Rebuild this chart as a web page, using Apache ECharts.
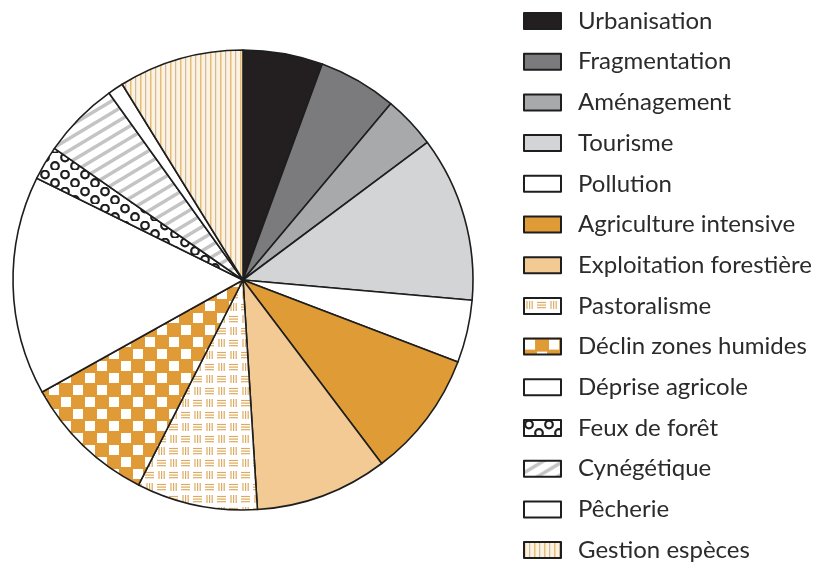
<!DOCTYPE html>
<html>
<head>
<meta charset="utf-8">
<script src="https://cdn.jsdelivr.net/npm/echarts@6/dist/echarts.min.js"></script>
<style>
html,body{margin:0;padding:0;background:#fff;}
#chart{width:830px;height:567px;}
</style>
</head>
<body>
<div id="chart"></div>
<script>
// ---- data ----
const categories = ["Urbanisation","Fragmentation","Aménagement","Tourisme","Pollution","Agriculture intensive","Exploitation forestière","Pastoralisme","Déclin zones humides","Déprise agricole","Feux de forêt","Cynégétique","Pêcherie","Gestion espèces"];
const values = [5.6, 5.5, 3.7, 11.6, 4.4, 8.9, 9.3, 8.5, 9.4, 15.4, 2.4, 5.4, 1.1, 8.8];

// ---- patterns ----
function mk(w, h, draw) {
  const c = document.createElement('canvas');
  c.width = w; c.height = h;
  const g = c.getContext('2d');
  draw(g, w, h);
  return { image: c, repeat: 'repeat' };
}
const pastoral = mk(24, 24, (g) => {
  g.fillStyle = '#ffffff'; g.fillRect(0,0,24,24);
  g.strokeStyle = '#dcaa5e'; g.lineWidth = 1.2;
  function vert(x0, y0){ for (let i=0;i<3;i++){ g.beginPath(); g.moveTo(x0+2+i*2.6, y0+2); g.lineTo(x0+2+i*2.6, y0+10); g.stroke(); } }
  function hor(x0, y0){ for (let i=0;i<3;i++){ g.beginPath(); g.moveTo(x0+1, y0+3.5+i*2.6); g.lineTo(x0+10, y0+3.5+i*2.6); g.stroke(); } }
  vert(1,1); hor(12,1); hor(0,13); vert(13,13);
});
const checker = mk(24, 24, (g) => {
  g.fillStyle = '#e09a36'; g.fillRect(0,0,24,24);
  g.fillStyle = '#ffffff';
  g.fillRect(1,1,10,10); g.fillRect(13,13,10,10);
});
const rings = mk(20, 17, (g) => {
  g.fillStyle = '#ffffff'; g.fillRect(0,0,20,17);
  g.strokeStyle = '#1e1e1e'; g.lineWidth = 2.2;
  g.beginPath(); g.arc(5,4.5,3.8,0,Math.PI*2); g.stroke();
  g.beginPath(); g.arc(15,13,3.8,0,Math.PI*2); g.stroke();
});
const hatch = mk(20, 12, (g) => {
  g.fillStyle = '#ffffff'; g.fillRect(0,0,20,12);
  g.strokeStyle = '#c4c4c4'; g.lineWidth = 3.5;
  for (let k=-2;k<=2;k++){
    g.beginPath(); g.moveTo(-5, 12+k*12+3); g.lineTo(25, 0+k*12-3); g.stroke();
  }
});
const stripes = mk(10, 10, (g) => {
  g.fillStyle = '#fdf2df'; g.fillRect(0,0,10,10);
  g.fillStyle = '#e6bd78'; g.fillRect(0,0,1.5,10);
  g.fillStyle = '#c9bba6'; g.fillRect(5,0,1.2,10);
});

const fills = ['#231f20','#7b7b7d','#a8a9ab','#d3d4d6','#ffffff','#df9b35','#f3c994',pastoral,checker,'#ffffff',rings,hatch,'#ffffff',stripes];

const chart = echarts.init(document.getElementById('chart'), null, {renderer:'canvas'});
chart.setOption({
  animation: false,
  backgroundColor: '#ffffff',
  legend: {
    orient: 'vertical',
    left: 523,
    top: 9,
    height: 567,
    padding: 0,
    icon: 'rect',
    itemWidth: 37,
    itemHeight: 16,
    itemGap: 16.7,
    selectedMode: false,
    data: categories,
    textStyle: { fontFamily: 'Lato', fontSize: 24, color: '#2b2b2b', lineHeight: 24, padding: [0,0,0,12] }
  },
  series: [{
    type: 'pie',
    center: [243, 280],
    radius: 230,
    startAngle: 90,
    clockwise: true,
    label: { show: false },
    labelLine: { show: false },
    emphasis: { disabled: true },
    itemStyle: { borderColor: '#1e1e1e', borderWidth: 1.6 },
    data: categories.map((n, i) => ({ name: n, value: values[i], itemStyle: { color: fills[i] } }))
  }]
});
</script>
</body>
</html>
